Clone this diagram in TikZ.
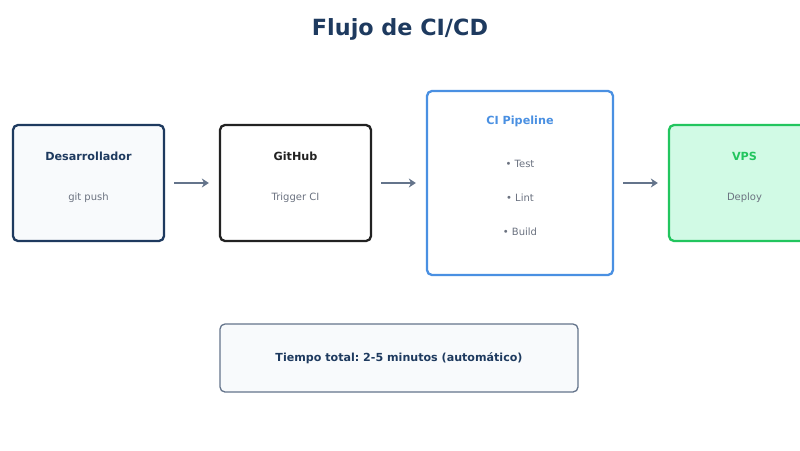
\documentclass[tikz,border=0pt]{standalone}
\usepackage{fontspec}
\setmainfont{DejaVu Sans}
\frenchspacing
\usetikzlibrary{arrows.meta}

\definecolor{navy}{HTML}{1E3A5F}
\definecolor{softbg}{HTML}{F8FAFC}
\definecolor{pipeblue}{HTML}{4A90E2}
\definecolor{vpsgreen}{HTML}{22C55E}
\definecolor{vpsbg}{HTML}{D1FAE5}
\definecolor{subgray}{HTML}{6B7280}
\definecolor{arrowgray}{HTML}{64748B}
\definecolor{darkbox}{HTML}{222222}

\begin{document}
\begin{tikzpicture}[x=1pt, y=-1pt,
    stage/.style={draw, line width=2.3pt, rounded corners=5pt, minimum width=151pt, minimum height=116pt, inner sep=0pt},
    head/.style={font=\fontsize{11.2}{13}\selectfont\bfseries},
    sub/.style={font=\fontsize{10}{12}\selectfont, text=subgray},
    flow/.style={-{Stealth[length=7pt,width=9pt]}, line width=2.6pt, draw=arrowgray, shorten <=9pt, shorten >=10pt}]
    \useasboundingbox (0,0) rectangle (800,450);
    \fill[white] (0,0) rectangle (800,450);

    % Title
    \node[font=\fontsize{22.3}{26}\selectfont\bfseries, text=navy] (title) at (400,29.5) {Flujo de CI/CD};

    % Stages
    \node[stage, draw=navy, fill=softbg] (dev) at (88.5,183) {};
    \node[stage, draw=darkbox, fill=white] (gh) at (295.5,183) {};
    \node[stage, draw=pipeblue, fill=white, minimum width=186pt, minimum height=184pt] (ci) at (520,183) {};
    \node[stage, draw=vpsgreen, fill=vpsbg] (vps) at (744.5,183) {};

    % Labels
    \node[head, text=navy] (devname) at (88.5,156) {Desarrollador};
    \node[sub] (devtask) at (88.5,197.5) {git push};
    \node[head, text=darkbox] (ghname) at (295.5,156) {GitHub};
    \node[sub] (ghtask) at (295.5,197.5) {Trigger CI};
    \node[head, text=pipeblue] (ciname) at (520,121) {CI Pipeline};
    \node[sub] (citest) at (520,163.5) {• Test};
    \node[sub] (cilint) at (520,197.5) {• Lint};
    \node[sub] (cibuild) at (520,231.5) {• Build};
    \node[head, text=vpsgreen] (vpsname) at (744.5,156) {VPS};
    \node[sub] (vpstask) at (744.5,197.5) {Deploy};

    % Arrows
    \draw[flow] (dev) -- (gh);
    \draw[flow] (gh) -- (ci);
    \draw[flow] (ci) -- (vps);

    % Summary
    \node[draw=arrowgray, line width=1.3pt, fill=softbg, rounded corners=5pt, minimum width=358pt, minimum height=68pt,
        font=\fontsize{11.1}{13}\selectfont\bfseries, text=navy] (total) at (399,358) {Tiempo total: 2-5 minutos (automático)};
\end{tikzpicture}
\end{document}
